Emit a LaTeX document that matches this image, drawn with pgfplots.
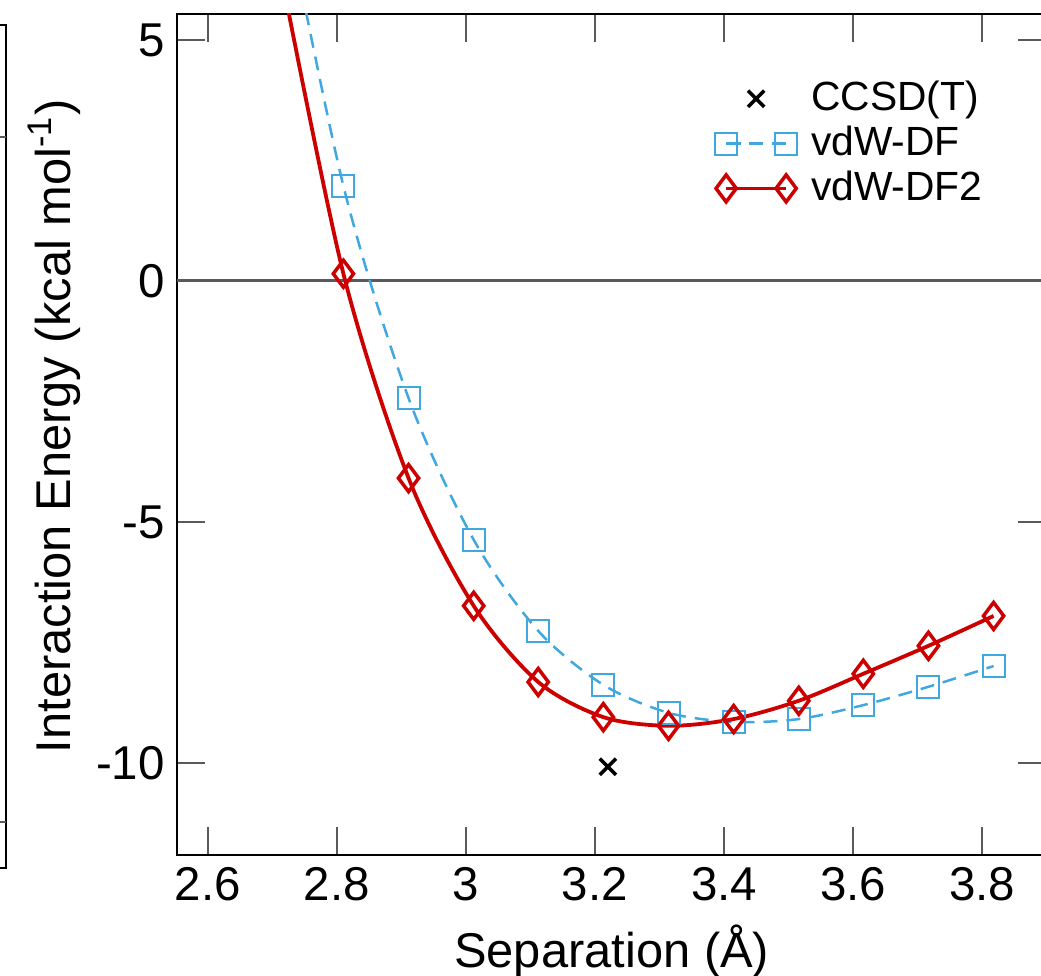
\documentclass[border=0pt]{standalone}
\usepackage{fontspec}
\setmainfont{Liberation Sans}
\usepackage{pgfplots}
\pgfplotsset{compat=1.18}
\definecolor{dfblue}{RGB}{64,168,222}
\definecolor{dfred}{RGB}{205,0,0}
\definecolor{tickgray}{RGB}{90,90,90}
\pgfplotsset{
    pair legend/.style={legend image code/.code={\draw[##1] plot coordinates {(0mm,0mm) (6mm,0mm)};}},
    single legend/.style={legend image code/.code={\draw[##1] plot coordinates {(3mm,0mm)};}},
}

\begin{document}
\begin{tikzpicture}
% right edge of the neighbouring panel
\draw[black, line width=0.2mm] (0mm,95.1mm) -- (0.6mm,95.1mm) -- (0.6mm,10.8mm) -- (0mm,10.8mm);
\draw[tickgray, line width=0.2mm] (0mm,83.9mm) -- (0.6mm,83.9mm) (0mm,15.4mm) -- (0.6mm,15.4mm);

\begin{axis}[
    at={(17.7mm,12.1mm)}, anchor=south west,
    scale only axis, width=86.95mm, height=84.1mm,
    xmin=2.552, xmax=3.9, ymin=-11.91, ymax=5.54,
    xtick={2.6,2.8,3.0,3.2,3.4,3.6,3.8},
    ytick={-10,-5,0,5},
    tick align=inside, major tick length=2.8mm,
    tick style={line width=0.2mm, tickgray},
    axis line style={line width=0.2mm, black},
    /pgf/number format/assume math mode=true,
    ticklabel style={font=\fontsize{13.5}{16}\selectfont},
    label style={font=\fontsize{13.9}{16}\selectfont},
    xlabel={Separation (Å)},
    ylabel={Interaction Energy (kcal mol\textsuperscript{-1})},
    ylabel style={at={(axis description cs:-0.123,0.51)}, anchor=base},
    legend style={at={(rel axis cs:0.606,0.935)}, anchor=north west,
        draw=none, fill=none, font=\fontsize{11.6}{14}\selectfont,
        nodes={inner sep=0.5mm},
        /tikz/every odd column/.append style={column sep=0.9mm}},
    legend cell align=left,
    pair legend,
]
\addplot[forget plot, tickgray, line width=0.3mm] coordinates {(2.552,0) (3.9,0)};

\addplot[only marks, mark=x, mark size=1.15mm, line width=0.35mm, black, single legend]
    coordinates {(3.220,-10.08)};
\addlegendentry{CCSD(T)}

\addplot[smooth, dfblue, line width=0.25mm, dash pattern=on 1.4mm off 0.9mm,
    mark=square, mark size=1.1mm, mark options={solid, line width=0.2mm}]
    coordinates {
    (2.71,8.4) (2.810,1.97) (2.911,-2.43) (3.012,-5.37) (3.112,-7.26) (3.213,-8.38)
    (3.314,-8.96) (3.415,-9.15) (3.516,-9.09) (3.616,-8.80) (3.717,-8.42) (3.818,-7.99)
    };
\addlegendentry{vdW-DF}

\addplot[smooth, dfred, line width=0.38mm,
    mark=diamond, mark size=1.35mm, mark options={solid, line width=0.35mm}]
    coordinates {
    (2.71,6.6) (2.810,0.15) (2.911,-4.09) (3.012,-6.74) (3.112,-8.32) (3.213,-9.05)
    (3.314,-9.23) (3.415,-9.09) (3.516,-8.71) (3.616,-8.15) (3.717,-7.57) (3.818,-6.95)
    };
\addlegendentry{vdW-DF2}
\end{axis}

\pgfresetboundingbox
\useasboundingbox (0mm,0mm) rectangle (104.1mm,97.6mm);
\end{tikzpicture}
\end{document}
